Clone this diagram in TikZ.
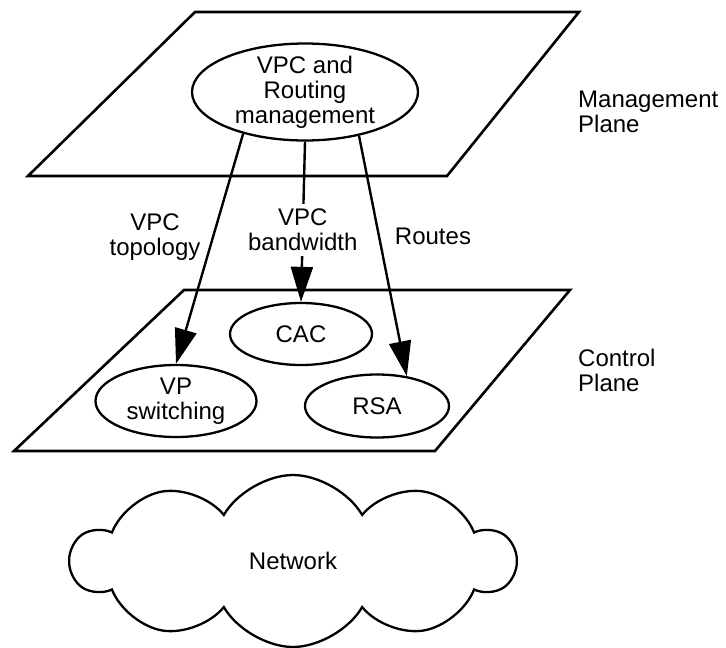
\documentclass[tikz,border=0pt]{standalone}
\usepackage{fontspec}
\setmainfont{Liberation Sans}
\usetikzlibrary{arrows.meta,shapes.geometric,shapes.symbols}

\begin{document}
\begin{tikzpicture}[x=1pt,y=-1pt,
  every node/.style={font=\fontsize{24}{25}\selectfont, align=center, inner sep=0pt},
  proc/.style={draw, ellipse, line width=2.3pt, inner sep=-2pt},
  plane/.style={draw, line width=2.6pt, line join=miter},
  flow/.style={line width=2.4pt, -{Triangle[length=35pt,width=22pt]}}]

  % line widths and page size (pixels of the drawing)
  \def\W{726}
  \def\H{648}
  \useasboundingbox (0,0) rectangle (\W,\H);

  % management plane
  \draw[plane] (195,12) -- (579,12) -- (447,176) -- (28,176) -- cycle;
  \node[proc, minimum width=226pt, minimum height=97pt] (mgmt) at (305,92)
    {VPC and\\Routing\\management};
  \node[anchor=west, align=left] (mplane) at (578,112) {Management\\Plane};

  % control plane
  \draw[plane] (184,290) -- (570,290) -- (435,451) -- (14,451) -- cycle;
  \node[proc, minimum width=142pt, minimum height=62pt] (cac) at (301,334) {CAC};
  \node[proc, minimum width=161pt, minimum height=72pt] (vpsw) at (176,401) {VP\\switching};
  \node[proc, minimum width=144pt, minimum height=63pt] (rsa) at (377,406) {RSA};
  \node[anchor=west, align=left] (cplane) at (578,370) {Control\\Plane};

  % network below the planes
  \node[cloud, draw, line width=2.3pt, cloud puffs=10, cloud puff arc=120,
    minimum width=443pt, minimum height=172pt] (net) at (293,561) {Network};

  % flows from management to control plane
  \draw[flow] (mgmt.214) -- (vpsw.north);
  \draw[flow] (mgmt.south) -- (cac.north)
    node[pos=0.55, fill=white, inner xsep=3pt, minimum height=52pt] (bw) {VPC\\bandwidth};
  \draw[flow] (mgmt.321) -- (rsa.45);

  % flow labels
  \node (topo) at (155,237) {VPC\\topology};
  \node (routes) at (433,236) {Routes};
\end{tikzpicture}
\end{document}
